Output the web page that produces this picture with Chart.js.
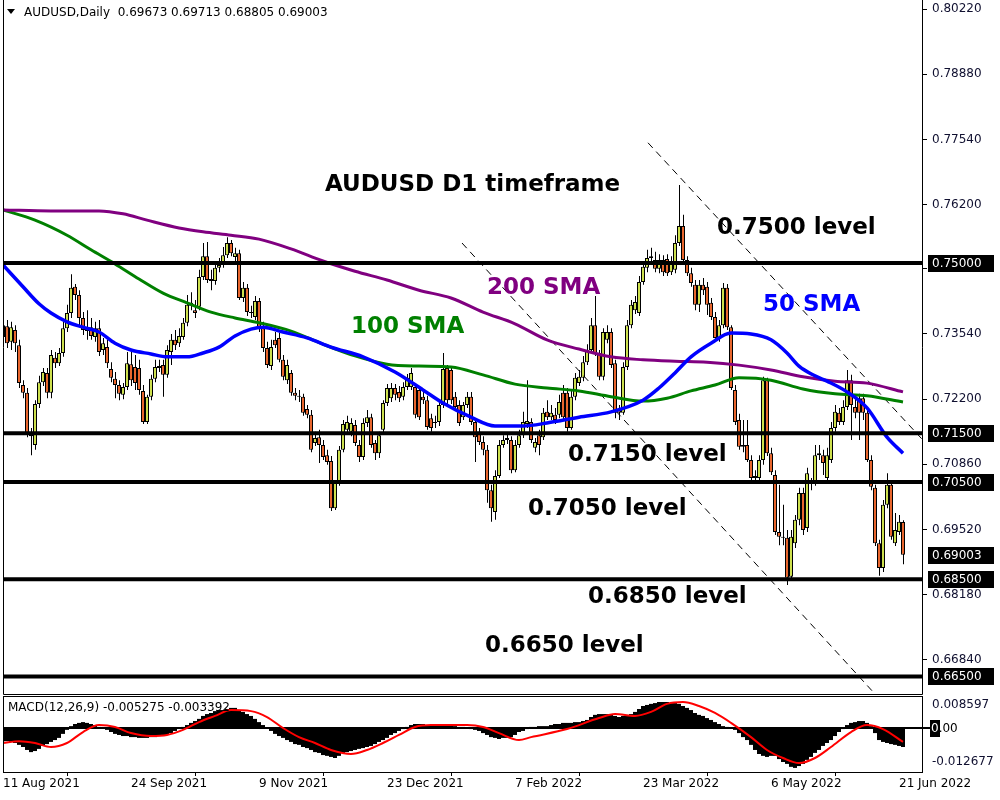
<!DOCTYPE html>
<html>
<head>
<meta charset="utf-8">
<script src="https://cdn.jsdelivr.net/npm/chart.js@4.4.1/dist/chart.umd.min.js"></script>
<style>
html, body { margin: 0; padding: 0; background: #fff; }
#wrap { position: relative; width: 1000px; height: 800px; }
canvas { position: absolute; left: 0; }
#main { top: 0; }
#macd { top: 695px; }
</style>
</head>
<body>
<div id="wrap">
  <canvas id="main" width="1000" height="695"></canvas>
  <canvas id="macd" width="1000" height="105"></canvas>
</div>
<script>
// daily AUDUSD candles, 11 Aug 2021 .. 22 Jun 2022
const opens = [
  0.7348, 0.7370, 0.7338, 0.7362, 0.7331, 0.7249, 0.7233, 0.7148, 0.7126, 0.7210,
  0.7255, 0.7274, 0.7233, 0.7305, 0.7294, 0.7315, 0.7366, 0.7397, 0.7451, 0.7434,
  0.7387, 0.7366, 0.7368, 0.7348, 0.7366, 0.7321, 0.7327, 0.7282, 0.7262, 0.7249,
  0.7229, 0.7245, 0.7292, 0.7286, 0.7284, 0.7237, 0.7173, 0.7225, 0.7262, 0.7288,
  0.7290, 0.7270, 0.7317, 0.7342, 0.7335, 0.7348, 0.7377, 0.7418, 0.7403, 0.7410,
  0.7471, 0.7514, 0.7467, 0.7463, 0.7490, 0.7496, 0.7516, 0.7541, 0.7512, 0.7520,
  0.7428, 0.7449, 0.7399, 0.7389, 0.7422, 0.7366, 0.7325, 0.7288, 0.7342, 0.7346,
  0.7301, 0.7259, 0.7274, 0.7233, 0.7227, 0.7225, 0.7200, 0.7188, 0.7130, 0.7142,
  0.7126, 0.7105, 0.7093, 0.6996, 0.7048, 0.7116, 0.7157, 0.7153, 0.7167, 0.7126,
  0.7101, 0.7171, 0.7183, 0.7130, 0.7109, 0.7157, 0.7212, 0.7222, 0.7243, 0.7235,
  0.7225, 0.7245, 0.7245, 0.7245, 0.7239, 0.7225, 0.7218, 0.7181, 0.7173, 0.7173,
  0.7208, 0.7284, 0.7280, 0.7225, 0.7208, 0.7183, 0.7208, 0.7225, 0.7173, 0.7153,
  0.7132, 0.7116, 0.7033, 0.6988, 0.7062, 0.7126, 0.7140, 0.7136, 0.7074, 0.7126,
  0.7146, 0.7169, 0.7173, 0.7120, 0.7146, 0.7142, 0.7194, 0.7183, 0.7188, 0.7188,
  0.7233, 0.7233, 0.7161, 0.7225, 0.7253, 0.7264, 0.7296, 0.7321, 0.7372, 0.7315,
  0.7266, 0.7342, 0.7358, 0.7294, 0.7198, 0.7192, 0.7286, 0.7372, 0.7403, 0.7397,
  0.7461, 0.7490, 0.7510, 0.7506, 0.7488, 0.7506, 0.7508, 0.7481, 0.7486, 0.7541,
  0.7576, 0.7506, 0.7479, 0.7455, 0.7414, 0.7455, 0.7451, 0.7418, 0.7389, 0.7346,
  0.7372, 0.7449, 0.7368, 0.7239, 0.7177, 0.7126, 0.7126, 0.7095, 0.7062, 0.7058,
  0.7095, 0.7259, 0.7109, 0.7064, 0.6947, 0.6937, 0.6935, 0.6855, 0.6924, 0.6972,
  0.7027, 0.6955, 0.7048, 0.7048, 0.7109, 0.7105, 0.7058, 0.7095, 0.7161, 0.7192,
  0.7173, 0.7204, 0.7259, 0.7204, 0.7222, 0.7222, 0.7192, 0.7095, 0.7038, 0.6924,
  0.6873, 0.7003, 0.7044, 0.6924, 0.6947, 0.69673
];
const highs = [
  0.7387, 0.7383, 0.7379, 0.7372, 0.7342, 0.7259, 0.7243, 0.7161, 0.7218, 0.7268,
  0.7284, 0.7284, 0.7321, 0.7317, 0.7325, 0.7379, 0.7414, 0.7477, 0.7457, 0.7444,
  0.7399, 0.7403, 0.7387, 0.7379, 0.7383, 0.7346, 0.7342, 0.7296, 0.7276, 0.7259,
  0.7253, 0.7317, 0.7317, 0.7311, 0.7301, 0.7249, 0.7229, 0.7270, 0.7301, 0.7301,
  0.7301, 0.7331, 0.7354, 0.7362, 0.7366, 0.7387, 0.7434, 0.7440, 0.7424, 0.7486,
  0.7541, 0.7543, 0.7486, 0.7502, 0.7510, 0.7533, 0.7553, 0.7547, 0.7531, 0.7527,
  0.7461, 0.7457, 0.7412, 0.7432, 0.7428, 0.7379, 0.7338, 0.7342, 0.7358, 0.7356,
  0.7311, 0.7301, 0.7280, 0.7243, 0.7239, 0.7231, 0.7208, 0.7198, 0.7153, 0.7157,
  0.7136, 0.7116, 0.7103, 0.7054, 0.7124, 0.7177, 0.7186, 0.7181, 0.7177, 0.7136,
  0.7181, 0.7198, 0.7190, 0.7136, 0.7153, 0.7218, 0.7251, 0.7253, 0.7251, 0.7247,
  0.7255, 0.7272, 0.7284, 0.7251, 0.7247, 0.7235, 0.7227, 0.7190, 0.7186, 0.7218,
  0.7315, 0.7290, 0.7284, 0.7235, 0.7218, 0.7214, 0.7235, 0.7235, 0.7181, 0.7161,
  0.7144, 0.7126, 0.7044, 0.7074, 0.7136, 0.7146, 0.7148, 0.7144, 0.7136, 0.7157,
  0.7194, 0.7259, 0.7181, 0.7140, 0.7157, 0.7202, 0.7218, 0.7208, 0.7202, 0.7229,
  0.7249, 0.7243, 0.7239, 0.7274, 0.7280, 0.7309, 0.7333, 0.7387, 0.7432, 0.7321,
  0.7366, 0.7372, 0.7366, 0.7301, 0.7208, 0.7296, 0.7383, 0.7424, 0.7432, 0.7473,
  0.7502, 0.7527, 0.7531, 0.7523, 0.7518, 0.7516, 0.7518, 0.7514, 0.7557, 0.7660,
  0.7599, 0.7514, 0.7490, 0.7465, 0.7465, 0.7469, 0.7461, 0.7428, 0.7399, 0.7383,
  0.7459, 0.7457, 0.7372, 0.7249, 0.7190, 0.7177, 0.7177, 0.7105, 0.7074, 0.7105,
  0.7266, 0.7264, 0.7120, 0.7074, 0.7044, 0.7003, 0.6951, 0.6951, 0.6982, 0.7038,
  0.7038, 0.7079, 0.7058, 0.7126, 0.7126, 0.7116, 0.7120, 0.7173, 0.7208, 0.7202,
  0.7218, 0.7280, 0.7270, 0.7229, 0.7231, 0.7231, 0.7202, 0.7105, 0.7044, 0.6931,
  0.7013, 0.7068, 0.7054, 0.6986, 0.6982, 0.69713
];
const lows = [
  0.7331, 0.7325, 0.7321, 0.7317, 0.7243, 0.7222, 0.7142, 0.7105, 0.7116, 0.7202,
  0.7247, 0.7222, 0.7222, 0.7284, 0.7288, 0.7307, 0.7358, 0.7387, 0.7424, 0.7372,
  0.7352, 0.7342, 0.7342, 0.7338, 0.7309, 0.7311, 0.7284, 0.7255, 0.7222, 0.7218,
  0.7220, 0.7239, 0.7247, 0.7239, 0.7229, 0.7169, 0.7169, 0.7218, 0.7255, 0.7276,
  0.7225, 0.7264, 0.7290, 0.7321, 0.7327, 0.7342, 0.7370, 0.7403, 0.7387, 0.7403,
  0.7465, 0.7459, 0.7444, 0.7455, 0.7481, 0.7490, 0.7510, 0.7514, 0.7502, 0.7424,
  0.7420, 0.7391, 0.7387, 0.7383, 0.7358, 0.7317, 0.7284, 0.7280, 0.7325, 0.7296,
  0.7259, 0.7251, 0.7227, 0.7218, 0.7214, 0.7186, 0.7181, 0.7111, 0.7124, 0.7089,
  0.7095, 0.7085, 0.6990, 0.6992, 0.7042, 0.7111, 0.7148, 0.7144, 0.7124, 0.7091,
  0.7095, 0.7163, 0.7120, 0.7095, 0.7099, 0.7150, 0.7206, 0.7214, 0.7218, 0.7214,
  0.7218, 0.7239, 0.7239, 0.7181, 0.7177, 0.7210, 0.7157, 0.7153, 0.7161, 0.7165,
  0.7202, 0.7210, 0.7210, 0.7198, 0.7165, 0.7177, 0.7202, 0.7167, 0.7091, 0.7126,
  0.7105, 0.7007, 0.6968, 0.6972, 0.7058, 0.7120, 0.7128, 0.7068, 0.7070, 0.7120,
  0.7140, 0.7161, 0.7130, 0.7111, 0.7105, 0.7136, 0.7177, 0.7177, 0.7169, 0.7181,
  0.7177, 0.7153, 0.7157, 0.7218, 0.7247, 0.7257, 0.7290, 0.7315, 0.7309, 0.7259,
  0.7259, 0.7335, 0.7284, 0.7181, 0.7177, 0.7188, 0.7280, 0.7366, 0.7395, 0.7391,
  0.7455, 0.7481, 0.7502, 0.7481, 0.7479, 0.7473, 0.7473, 0.7475, 0.7479, 0.7535,
  0.7502, 0.7473, 0.7451, 0.7403, 0.7399, 0.7434, 0.7393, 0.7383, 0.7342, 0.7338,
  0.7366, 0.7362, 0.7239, 0.7167, 0.7116, 0.7111, 0.7091, 0.7054, 0.7048, 0.7052,
  0.7085, 0.7103, 0.7064, 0.6941, 0.6920, 0.6920, 0.6838, 0.6848, 0.6914, 0.6961,
  0.6941, 0.6947, 0.7033, 0.7042, 0.7095, 0.7064, 0.7050, 0.7089, 0.7153, 0.7167,
  0.7167, 0.7198, 0.7136, 0.7181, 0.7136, 0.7177, 0.7091, 0.7033, 0.6918, 0.6857,
  0.6865, 0.6996, 0.6931, 0.6918, 0.6941, 0.68805
];
const closes = [
  0.7372, 0.7335, 0.7368, 0.7335, 0.7253, 0.7233, 0.7150, 0.7144, 0.7210, 0.7255,
  0.7276, 0.7233, 0.7311, 0.7294, 0.7315, 0.7366, 0.7397, 0.7449, 0.7434, 0.7387,
  0.7362, 0.7360, 0.7350, 0.7366, 0.7317, 0.7335, 0.7294, 0.7264, 0.7249, 0.7231,
  0.7245, 0.7294, 0.7259, 0.7253, 0.7239, 0.7173, 0.7225, 0.7262, 0.7286, 0.7284,
  0.7270, 0.7321, 0.7342, 0.7331, 0.7350, 0.7377, 0.7414, 0.7412, 0.7397, 0.7471,
  0.7514, 0.7465, 0.7463, 0.7490, 0.7496, 0.7516, 0.7541, 0.7520, 0.7520, 0.7428,
  0.7449, 0.7399, 0.7397, 0.7422, 0.7366, 0.7325, 0.7290, 0.7327, 0.7331, 0.7301,
  0.7266, 0.7290, 0.7233, 0.7227, 0.7225, 0.7192, 0.7188, 0.7116, 0.7140, 0.7126,
  0.7101, 0.7091, 0.6996, 0.7048, 0.7116, 0.7169, 0.7173, 0.7171, 0.7130, 0.7101,
  0.7171, 0.7183, 0.7126, 0.7109, 0.7146, 0.7212, 0.7243, 0.7243, 0.7229, 0.7222,
  0.7245, 0.7264, 0.7274, 0.7188, 0.7183, 0.7218, 0.7163, 0.7161, 0.7171, 0.7208,
  0.7282, 0.7218, 0.7218, 0.7204, 0.7171, 0.7208, 0.7225, 0.7173, 0.7142, 0.7132,
  0.7116, 0.7033, 0.6996, 0.7062, 0.7126, 0.7136, 0.7136, 0.7074, 0.7126, 0.7146,
  0.7173, 0.7175, 0.7136, 0.7132, 0.7126, 0.7192, 0.7183, 0.7192, 0.7177, 0.7214,
  0.7183, 0.7161, 0.7225, 0.7264, 0.7266, 0.7296, 0.7321, 0.7372, 0.7315, 0.7266,
  0.7358, 0.7358, 0.7290, 0.7192, 0.7192, 0.7286, 0.7372, 0.7414, 0.7420, 0.7461,
  0.7492, 0.7510, 0.7514, 0.7488, 0.7506, 0.7481, 0.7479, 0.7502, 0.7541, 0.7576,
  0.7506, 0.7479, 0.7459, 0.7414, 0.7455, 0.7444, 0.7414, 0.7389, 0.7346, 0.7372,
  0.7449, 0.7368, 0.7243, 0.7173, 0.7122, 0.7122, 0.7095, 0.7058, 0.7058, 0.7095,
  0.7259, 0.7109, 0.7070, 0.6947, 0.6937, 0.6935, 0.6853, 0.6937, 0.6972, 0.7027,
  0.6951, 0.7068, 0.7046, 0.7105, 0.7105, 0.7089, 0.7105, 0.7161, 0.7194, 0.7173,
  0.7204, 0.7259, 0.7208, 0.7192, 0.7192, 0.7192, 0.7095, 0.7040, 0.6924, 0.6873,
  0.7003, 0.7044, 0.6937, 0.6951, 0.6968, 0.69003
];

// moving averages, [bar index, value] read at intervals
const sma50 = [[0,0.7496],[5,0.7451],[9,0.7416],[12,0.7397],[16,0.7379],[20,0.7368],[24,0.7358],[28,0.7335],
  [32,0.7321],[37,0.7313],[41,0.7307],[46,0.7307],[50,0.7315],[54,0.7327],[58,0.7350],[62,0.7364],[65,0.7368],
  [70,0.7358],[76,0.7346],[82,0.7327],[90,0.7307],[98,0.7276],[105,0.7239],[110,0.7212],[117,0.7183],[123,0.7165],
  [130,0.7165],[136,0.7171],[144,0.7183],[152,0.7194],[160,0.7218],[164,0.7243],[168,0.7274],[172,0.7307],
  [177,0.7335],[182,0.7356],[187,0.7354],[192,0.7342],[196,0.7315],[199,0.7288],[203,0.7268],[206,0.7257],
  [211,0.7235],[216,0.7202],[221,0.7142],[225,0.7109]];
const sma100 = [[0,0.7609],[8,0.7588],[16,0.7557],[22,0.7527],[28,0.7498],[34,0.7467],[40,0.7438],[46,0.7418],
  [52,0.7399],[58,0.7387],[64,0.7377],[72,0.7360],[80,0.7333],[88,0.7309],[96,0.7292],[104,0.7288],[112,0.7286],
  [120,0.7270],[128,0.7251],[136,0.7243],[144,0.7237],[152,0.7225],[160,0.7216],[166,0.7222],[172,0.7237],
  [178,0.7249],[184,0.7264],[192,0.7259],[200,0.7241],[208,0.7231],[216,0.7227],[225,0.7214]];
const sma200 = [[0,0.7609],[12,0.7607],[24,0.7607],[30,0.7601],[36,0.7588],[44,0.7572],[50,0.7564],[57,0.7557],
  [64,0.7549],[72,0.7529],[80,0.7504],[88,0.7483],[96,0.7465],[104,0.7444],[112,0.7428],[120,0.7399],[128,0.7375],
  [136,0.7342],[144,0.7323],[152,0.7307],[160,0.7301],[168,0.7298],[176,0.7296],[184,0.7290],[192,0.7280],
  [200,0.7266],[208,0.7257],[216,0.7253],[225,0.7235]];

const levels = [0.7500, 0.7150, 0.7050, 0.6850, 0.6650];
const trendUpper = [[161.25, 0.7747], [229.75, 0.7138]];
const trendLower = [[114.75, 0.7541], [218.0, 0.6614]];

const priceTicks = [0.80220, 0.78880, 0.77540, 0.76200, 0.74880, 0.73540, 0.72200, 0.70860, 0.69520, 0.68180, 0.66840];

// MACD(12,26,9) histogram per bar and signal line
const macdHist = [
  -0.0049, -0.0049, -0.0052, -0.0056, -0.0063, -0.0071, -0.0082, -0.0090, -0.0086, -0.0078,
  -0.0067, -0.0060, -0.0052, -0.0045, -0.0037, -0.0022, -0.0007, 0.0007, 0.0015, 0.0019,
  0.0022, 0.0019, 0.0015, 0.0011, 0.0004, 0.0000, -0.0007, -0.0015, -0.0022, -0.0026,
  -0.0030, -0.0030, -0.0034, -0.0034, -0.0037, -0.0037, -0.0037, -0.0034, -0.0034, -0.0030,
  -0.0026, -0.0026, -0.0019, -0.0011, -0.0004, 0.0004, 0.0011, 0.0019, 0.0026, 0.0034,
  0.0045, 0.0052, 0.0056, 0.0063, 0.0067, 0.0067, 0.0071, 0.0075, 0.0075, 0.0067,
  0.0060, 0.0052, 0.0045, 0.0034, 0.0022, 0.0011, 0.0000, -0.0011, -0.0022, -0.0030,
  -0.0037, -0.0045, -0.0052, -0.0060, -0.0063, -0.0071, -0.0075, -0.0082, -0.0090, -0.0093,
  -0.0101, -0.0104, -0.0108, -0.0112, -0.0104, -0.0093, -0.0090, -0.0086, -0.0082, -0.0078,
  -0.0075, -0.0071, -0.0067, -0.0060, -0.0052, -0.0045, -0.0037, -0.0026, -0.0019, -0.0011,
  -0.0004, 0.0004, 0.0011, 0.0015, 0.0015, 0.0015, 0.0011, 0.0011, 0.0011, 0.0011,
  0.0015, 0.0015, 0.0011, 0.0007, 0.0004, 0.0004, 0.0000, -0.0004, -0.0007, -0.0011,
  -0.0019, -0.0026, -0.0034, -0.0037, -0.0041, -0.0037, -0.0037, -0.0034, -0.0026, -0.0015,
  -0.0011, -0.0004, 0.0004, 0.0004, 0.0007, 0.0007, 0.0007, 0.0011, 0.0015, 0.0015,
  0.0019, 0.0019, 0.0019, 0.0022, 0.0022, 0.0026, 0.0030, 0.0041, 0.0049, 0.0052,
  0.0052, 0.0052, 0.0049, 0.0045, 0.0041, 0.0045, 0.0049, 0.0052, 0.0060, 0.0071,
  0.0082, 0.0086, 0.0090, 0.0093, 0.0097, 0.0097, 0.0097, 0.0093, 0.0093, 0.0090,
  0.0082, 0.0075, 0.0067, 0.0056, 0.0049, 0.0045, 0.0037, 0.0030, 0.0022, 0.0015,
  0.0007, 0.0004, 0.0000, -0.0007, -0.0019, -0.0034, -0.0045, -0.0063, -0.0082, -0.0097,
  -0.0104, -0.0108, -0.0104, -0.0104, -0.0116, -0.0127, -0.0134, -0.0145, -0.0149, -0.0142,
  -0.0134, -0.0119, -0.0108, -0.0093, -0.0082, -0.0067, -0.0056, -0.0045, -0.0030, -0.0015,
  -0.0004, 0.0011, 0.0019, 0.0022, 0.0026, 0.0026, 0.0019, 0.0007, -0.0019, -0.0045,
  -0.0052, -0.0056, -0.0060, -0.0063, -0.0067, -0.0071
];
const macdSignal = [[0,-0.0056],[4,-0.0049],[8,-0.0056],[12,-0.0071],[16,-0.0056],[20,-0.0015],[24,0.0011],
  [28,0.0004],[32,-0.0019],[37,-0.0030],[41,-0.0026],[45,-0.0007],[49,0.0022],[53,0.0045],[57,0.0067],
  [62,0.0063],[66,0.0041],[70,0.0000],[74,-0.0034],[78,-0.0056],[82,-0.0082],[87,-0.0097],[91,-0.0082],
  [95,-0.0056],[99,-0.0026],[103,0.0004],[107,0.0011],[116,0.0011],[120,0.0004],[124,-0.0019],[129,-0.0045],
  [132,-0.0034],[141,-0.0004],[149,0.0037],[153,0.0052],[158,0.0045],[162,0.0060],[166,0.0090],[170,0.0097],
  [174,0.0082],[178,0.0056],[182,0.0019],[187,-0.0034],[191,-0.0082],[195,-0.0112],[199,-0.0131],
  [203,-0.0112],[207,-0.0071],[212,-0.0015],[216,0.0011],[220,-0.0004],[225,-0.0052]];
const macdTicks = [0.008597, -0.012677];

const dateTicks = [0, 32, 64, 96, 128, 160, 192, 224];
const dateLabels = ['11 Aug 2021', '24 Sep 2021', '9 Nov 2021', '23 Dec 2021', '7 Feb 2022', '23 Mar 2022', '6 May 2022', '21 Jun 2022'];

const X_MIN = 0, X_MAX = 229.75;   // 4 px per bar, bar i centred on pixel 3 + 4i
const BULL = '#cde04e', BEAR = '#e8662e';
const FONT = '"DejaVu Sans", Verdana, sans-serif';

Chart.defaults.font.family = FONT;
Chart.defaults.color = '#000';

const pts = arr => arr.map(p => ({ x: p[0], y: p[1] }));

const notes = [
  ['AUDUSD D1 timeframe', 325, 185, '#000'],
  ['0.7500 level', 717, 228, '#000'],
  ['200 SMA', 487, 288, '#800080'],
  ['50 SMA', 763, 305, '#0000ff'],
  ['100 SMA', 351, 327, '#008000'],
  ['0.7150 level', 568, 455, '#000'],
  ['0.7050 level', 528, 509, '#000'],
  ['0.6850 level', 588, 597, '#000'],
  ['0.6650 level', 485, 646, '#000']
];

function blackLabel(ctx, y, text) {
  ctx.fillStyle = '#000';
  ctx.fillRect(928, Math.round(y) - 8, 66, 17);
  ctx.fillStyle = '#fff';
  ctx.font = '12px ' + FONT;
  ctx.textAlign = 'left';
  ctx.textBaseline = 'middle';
  ctx.fillText(text, 932, Math.round(y) + 1);
}

const mainDeco = {
  id: 'mainDeco',
  afterDraw(chart) {
    const ctx = chart.ctx, a = chart.chartArea, y = chart.scales.y;
    ctx.save();
    ctx.strokeStyle = '#000';
    ctx.lineWidth = 1;
    ctx.beginPath();
    ctx.moveTo(a.left + 0.5, 0);
    ctx.lineTo(a.left + 0.5, a.bottom + 0.5);
    ctx.lineTo(a.right + 0.5, a.bottom + 0.5);
    ctx.lineTo(a.right + 0.5, 0);
    ctx.stroke();

    notes.forEach(n => {
      ctx.font = 'bold 23px ' + FONT;
      ctx.fillStyle = n[3];
      ctx.textAlign = 'left';
      ctx.textBaseline = 'middle';
      ctx.fillText(n[0], n[1], n[2]);
    });

    // header
    ctx.fillStyle = '#000';
    ctx.beginPath();
    ctx.moveTo(7, 9); ctx.lineTo(15, 9); ctx.lineTo(11, 14); ctx.closePath();
    ctx.fill();
    ctx.font = '12px ' + FONT;
    ctx.textBaseline = 'middle';
    ctx.fillText('AUDUSD,Daily  0.69673 0.69713 0.68805 0.69003', 24, 13);

    levels.forEach(v => blackLabel(ctx, y.getPixelForValue(v), v.toFixed(5)));
    blackLabel(ctx, y.getPixelForValue(closes[closes.length - 1]), closes[closes.length - 1].toFixed(5));
    ctx.restore();
  }
};

const levelSets = levels.map(v => ({
  type: 'line', data: [{ x: X_MIN, y: v }, { x: X_MAX, y: v }],
  borderColor: '#000', borderWidth: 4, pointRadius: 0, order: 1
}));

// no extra room for the end tick labels: keep the plot flush with the panel
const noPad = s => { s.paddingTop = 0; s.paddingBottom = 0; s.paddingLeft = 0; s.paddingRight = 0; };

new Chart(document.getElementById('main'), {
  type: 'bar',
  data: {
    datasets: [
      {
        // wick: nudged an eighth of a bar so the 1px line lands on a whole pixel
        data: opens.map((o, i) => ({ x: i + 0.125, y: [lows[i], highs[i]] })),
        backgroundColor: '#000', borderWidth: 0, barThickness: 1, grouped: false, inflateAmount: 0, order: 6
      },
      {
        data: opens.map((o, i) => ({ x: i, y: [Math.min(o, closes[i]), Math.max(o, closes[i])] })),
        backgroundColor: opens.map((o, i) => closes[i] >= o ? BULL : BEAR),
        borderColor: '#000', borderWidth: 1, borderSkipped: false,
        barThickness: 4, grouped: false, inflateAmount: 0, order: 5
      },
      { type: 'line', data: pts(trendUpper), borderColor: '#000', borderWidth: 1, borderDash: [7, 5], pointRadius: 0, order: 4 },
      { type: 'line', data: pts(trendLower), borderColor: '#000', borderWidth: 1, borderDash: [7, 5], pointRadius: 0, order: 4 },
      { type: 'line', data: pts(sma200), borderColor: '#800080', borderWidth: 3, pointRadius: 0, cubicInterpolationMode: 'monotone', order: 3 },
      { type: 'line', data: pts(sma100), borderColor: '#008000', borderWidth: 3, pointRadius: 0, cubicInterpolationMode: 'monotone', order: 3 },
      { type: 'line', data: pts(sma50), borderColor: '#0000ff', borderWidth: 3.5, pointRadius: 0, cubicInterpolationMode: 'monotone', order: 2 },
      ...levelSets
    ]
  },
  options: {
    responsive: false, animation: false, devicePixelRatio: 1,
    layout: { padding: { left: 3, top: 0, right: 0, bottom: 1 } },
    plugins: { legend: { display: false }, tooltip: { enabled: false } },
    scales: {
      x: { type: 'linear', min: X_MIN, max: X_MAX, display: false, offset: false },
      y: {
        position: 'right', min: 0.6614, max: 0.80405, beginAtZero: false,
        afterBuildTicks: s => { s.ticks = priceTicks.map(v => ({ value: v })); },
        afterFit: s => { s.width = 78; noPad(s); },
        ticks: { callback: v => v.toFixed(5), color: '#101030', font: { size: 12 }, padding: 5, autoSkip: false },
        grid: { drawOnChartArea: false, drawTicks: true, tickLength: 5, color: '#000' },
        border: { display: false }
      }
    }
  },
  plugins: [mainDeco]
});

const macdDeco = {
  id: 'macdDeco',
  afterDraw(chart) {
    const ctx = chart.ctx, a = chart.chartArea, y = chart.scales.y;
    ctx.save();
    ctx.strokeStyle = '#000';
    ctx.lineWidth = 1;
    ctx.strokeRect(a.left + 0.5, a.top + 0.5, a.right - a.left, a.bottom - a.top);
    // zero level into the scale area
    const zy = y.getPixelForValue(0);
    ctx.fillStyle = '#000';
    ctx.fillRect(a.right, Math.round(zy) - 1, 8, 2);
    ctx.fillRect(930, Math.round(zy) - 8, 10, 17);
    ctx.font = '12px ' + FONT;
    ctx.textAlign = 'left';
    ctx.textBaseline = 'middle';
    ctx.fillText('0.00', 931, Math.round(zy) + 1);
    ctx.save();
    ctx.beginPath();
    ctx.rect(930, Math.round(zy) - 8, 10, 17);
    ctx.clip();
    ctx.fillStyle = '#fff';
    ctx.fillText('0.00', 931, Math.round(zy) + 1);
    ctx.restore();
    ctx.fillStyle = '#000';
    ctx.fillText('MACD(12,26,9) -0.005275 -0.003392', 8, a.top + 12);
    ctx.restore();
  }
};

new Chart(document.getElementById('macd'), {
  type: 'bar',
  data: {
    datasets: [
      {
        data: macdHist.map((v, i) => ({ x: i, y: v })),
        backgroundColor: '#000', borderWidth: 0, barThickness: 4, inflateAmount: 0, grouped: false, order: 3
      },
      { type: 'line', data: [{ x: X_MIN, y: 0 }, { x: X_MAX, y: 0 }], borderColor: '#000', borderWidth: 2, pointRadius: 0, order: 2 },
      { type: 'line', data: pts(macdSignal), borderColor: '#ff0000', borderWidth: 2, pointRadius: 0, cubicInterpolationMode: 'monotone', order: 1 }
    ]
  },
  options: {
    responsive: false, animation: false, devicePixelRatio: 1,
    layout: { padding: { left: 3, top: 1, right: 0, bottom: 0 } },
    plugins: { legend: { display: false }, tooltip: { enabled: false } },
    scales: {
      x: {
        type: 'linear', min: X_MIN, max: X_MAX, offset: false,
        afterBuildTicks: s => { s.ticks = dateTicks.map(v => ({ value: v })); },
        afterFit: s => { s.height = 28; noPad(s); },
        ticks: {
          callback: v => dateLabels[dateTicks.indexOf(v)], align: 'start', autoSkip: false,
          maxRotation: 0, minRotation: 0, color: '#000', font: { size: 12 }, padding: 1
        },
        grid: { drawOnChartArea: false, drawTicks: true, tickLength: 4, color: '#000' },
        border: { display: false }
      },
      y: {
        position: 'right', min: -0.01642, max: 0.01194, beginAtZero: false,
        afterBuildTicks: s => { s.ticks = macdTicks.map(v => ({ value: v })); },
        afterFit: s => { s.width = 78; noPad(s); },
        ticks: { callback: v => v.toFixed(6), color: '#101030', font: { size: 12 }, padding: 10, autoSkip: false },
        grid: { drawOnChartArea: false, drawTicks: false },
        border: { display: false }
      }
    }
  },
  plugins: [macdDeco]
});
</script>
</body>
</html>
